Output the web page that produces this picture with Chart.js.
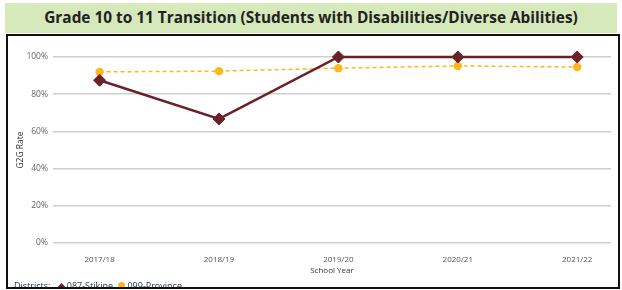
<!DOCTYPE html>
<html>
<head>
<meta charset="utf-8">
<script src="https://cdn.jsdelivr.net/npm/chart.js@4.4.0/dist/chart.umd.min.js"></script>
<style>
  body { margin: 0; background: #fff; font-family: "Open Sans", sans-serif; }
  #titre {
    position: absolute; left: 5px; top: 3px; width: 612px; height: 30px;
    background: #d5e9ba; text-align: center; line-height: 30px;
    font-size: 15.4px; font-weight: bold; color: #222;
  }
  #caixa {
    position: absolute; left: 6px; top: 34px; width: 614px; height: 255px;
    border: 2px solid #111; box-sizing: border-box; overflow: hidden;
  }
  #myChart { position: absolute; left: 0; top: 0; }
  #legenda {
    position: absolute; left: 6px; top: 245px; font-size: 9px; line-height: 10px;
    color: #1f3050; white-space: nowrap;
  }
  .diam { display: inline-block; width: 5px; height: 5px; background: #6b2127; transform: rotate(45deg); margin: 0 3px 0 6px; }
  .circ { display: inline-block; width: 7px; height: 7px; border-radius: 50%; background: #fbb818; margin: 0 2px 0 3px; }
</style>
</head>
<body>
<div id="titre">Grade 10 to 11 Transition (Students with Disabilities/Diverse Abilities)</div>
<div id="caixa">
  <canvas id="myChart" width="610" height="244"></canvas>
  <div id="legenda">Districts: <span class="diam"></span>087-Stikine <span class="circ"></span>099-Province</div>
</div>
<script>
// dados
const anos = ['2017/18', '2018/19', '2019/20', '2020/21', '2021/22'];
const stikine = [87.5, 66.7, 100, 100, 100];
const provincia = [92, 92.4, 94, 95.2, 94.6];
const yTicks = [0, 20, 40, 60, 80, 100];

const pontos = (vals) => vals.map((v, i) => ({ x: i, y: v }));

const config = {
    type: 'line',
    data: {
        datasets: [{
            label: '087-Stikine',
            data: pontos(stikine),
            borderColor: '#6b2127',
            backgroundColor: '#6b2127',
            borderWidth: 2.5,
            pointStyle: 'rectRot',
            pointRadius: 6,
            pointBorderWidth: 1,
            clip: false
        }, {
            label: '099-Province',
            data: pontos(provincia),
            borderColor: '#fbb818',
            backgroundColor: '#fbb818',
            borderWidth: 1.5,
            borderDash: [4, 3],
            pointStyle: 'circle',
            pointRadius: 4.2,
            pointBorderWidth: 0,
            clip: false
        }]
    },
    options: {
        responsive: false,
        animation: false,
        devicePixelRatio: 1,
        layout: { padding: { top: 21, right: 4, left: 0, bottom: 0 } },
        plugins: { legend: { display: false }, tooltip: { enabled: false } },
        scales: {
            x: {
                type: 'linear',
                min: -0.39,
                max: 4.283,
                grid: { display: false, drawTicks: false },
                border: { display: false },
                ticks: {
                    stepSize: 1,
                    includeBounds: false,
                    autoSkip: false,
                    maxRotation: 0,
                    padding: 12,
                    color: '#555',
                    font: { family: 'Open Sans', size: 8 },
                    callback: (v) => Number.isInteger(v) ? anos[v] : ''
                },
                title: {
                    display: true, text: 'School Year', color: '#333',
                    font: { family: 'Open Sans', size: 8 }
                },
                afterFit: (s) => { s.height = 37 }
            },
            y: {
                min: 0,
                max: 100,
                afterBuildTicks: (s) => { s.ticks = yTicks.map(v => ({ value: v })) },
                grid: { color: '#cfcfcf', lineWidth: 1.5, drawTicks: false },
                border: { display: false },
                ticks: {
                    padding: 5,
                    color: '#666',
                    font: { family: 'Open Sans', size: 8.5 },
                    callback: (v) => v + '%'
                },
                title: {
                    display: true, text: 'G2G Rate', color: '#333',
                    padding: { top: 7, bottom: 0 },
                    font: { family: 'Open Sans', size: 8.5 }
                },
                afterFit: (s) => { s.width = 45 }
            }
        }
    }
};

const myChart = new Chart(document.getElementById('myChart'), config);
</script>
</body>
</html>
